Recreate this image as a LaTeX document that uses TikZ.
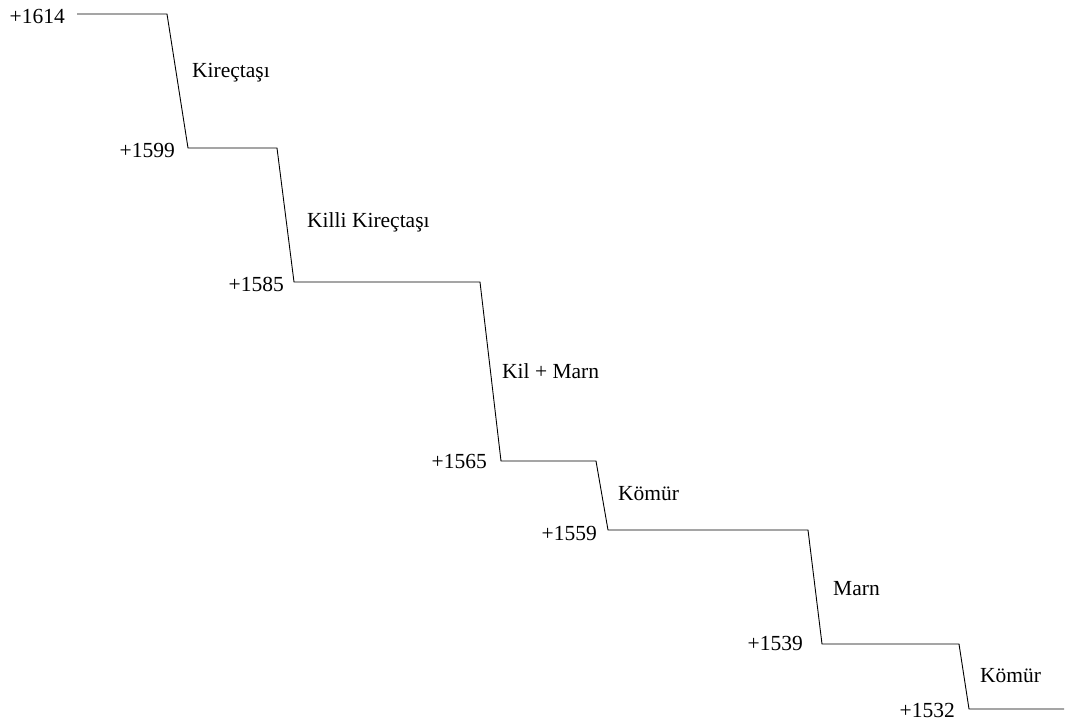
\documentclass[tikz,border=0pt]{standalone}
\usepackage{fontspec}
\setmainfont{Liberation Serif}
\begin{document}
\begin{tikzpicture}[x=1pt,y=-1pt,
  profile/.style={draw=black,line width=0.9pt,line join=miter},
  level/.style={anchor=base east,inner sep=0pt,font=\fontsize{21.5}{24}\selectfont},
  layer/.style={anchor=base west,inner sep=0pt,font=\fontsize{21.5}{24}\selectfont}]
\useasboundingbox (0,0) rectangle (1068,724);
% corners of the stepped section
\coordinate (p0) at (77,14);
\coordinate (p1) at (167,14);
\coordinate (p2) at (188,148);
\coordinate (p3) at (277,148);
\coordinate (p4) at (294,282);
\coordinate (p5) at (480,282);
\coordinate (p6) at (501,461);
\coordinate (p7) at (596,461);
\coordinate (p8) at (608,530);
\coordinate (p9) at (808,530);
\coordinate (p10) at (822,644);
\coordinate (p11) at (959,644);
\coordinate (p12) at (969,709);
\coordinate (p13) at (1064,709);
\draw[profile] (p0) -- (p1) -- (p2) -- (p3) -- (p4) -- (p5) -- (p6) -- (p7)
  -- (p8) -- (p9) -- (p10) -- (p11) -- (p12) -- (p13);
% elevations
\node[level] (e1) at (65,23) {+1614};
\node[level] (e2) at (175,157) {+1599};
\node[level] (e3) at (284,291) {+1585};
\node[level] (e4) at (487,468) {+1565};
\node[level] (e5) at (597,540) {+1559};
\node[level] (e6) at (803,650) {+1539};
\node[level] (e7) at (955,717) {+1532};
% lithology
\node[layer] (l1) at (192,77) {Kireçtaşı};
\node[layer] (l2) at (307,227) {Killi Kireçtaşı};
\node[layer] (l3) at (502,378) {Kil + Marn};
\node[layer] (l4) at (618,500) {Kömür};
\node[layer] (l5) at (833,595) {Marn};
\node[layer] (l6) at (980,682) {Kömür};
\end{tikzpicture}
\end{document}
